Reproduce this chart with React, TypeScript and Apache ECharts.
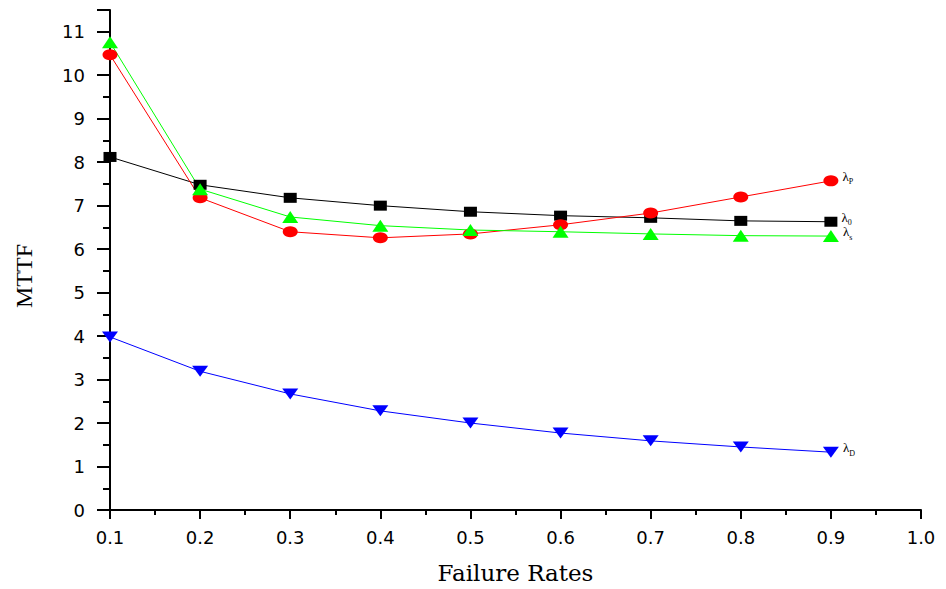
import React, { useEffect, useRef } from "react";
import * as echarts from "echarts";

const failureRates = [0.1, 0.2, 0.3, 0.4, 0.5, 0.6, 0.7, 0.8, 0.9];
const lambda0 = [8.12, 7.48, 7.18, 7.0, 6.86, 6.77, 6.72, 6.65, 6.63];
const lambdaP = [10.47, 7.18, 6.4, 6.26, 6.35, 6.56, 6.83, 7.2, 7.57];
const lambdaS = [10.76, 7.38, 6.74, 6.54, 6.44, 6.4, 6.35, 6.31, 6.3];
const lambdaD = [3.98, 3.19, 2.67, 2.28, 2.0, 1.77, 1.59, 1.45, 1.33];
const seriesNames = ["λ0", "λP", "λs", "λD"];
const subscripts = ["0", "P", "s", "D"];

export default function App() {
  const ref = useRef<HTMLDivElement>(null);
  useEffect(() => {
    document.body.style.margin = "0";
    const chart = echarts.init(ref.current!, null, { renderer: "svg" });
    const mk = (
      name: string,
      sub: string,
      vals: number[],
      color: string,
      symbol: string,
      size: number[],
      rotate = 0
    ) => ({
      name,
      type: "line",
      data: vals.map((v, i) => {
        const d: any = { value: [failureRates[i], v] };
        if (i === vals.length - 1) {
          d.label = {
            show: true,
            position: "right",
            distance: 4,
            offset: [0, -3],
            formatter: "{a|λ}{b|" + sub + "}",
            rich: {
              a: { fontFamily: "Liberation Serif", fontSize: 13, color: "#000", lineHeight: 16, verticalAlign: "top" },
              b: { fontFamily: "Liberation Serif", fontSize: 8, color: "#000", lineHeight: 16, verticalAlign: "bottom" },
            },
          };
        }
        return d;
      }),
      symbol,
      symbolSize: size,
      symbolRotate: rotate,
      showAllSymbol: true,
      itemStyle: { color },
      lineStyle: { color, width: 1 },
      z: 2,
    });
    chart.setOption({
      animation: false,
      backgroundColor: "#fff",
      grid: { left: 110, right: 25, top: 10, bottom: 78, containLabel: false },
      xAxis: {
        type: "value",
        min: 0.1,
        max: 1.0,
        interval: 0.1,
        name: "Failure Rates",
        nameLocation: "middle",
        nameGap: 51,
        nameTextStyle: { fontFamily: "DejaVu Serif", fontSize: 23, color: "#000" },
        axisLine: { show: true, lineStyle: { color: "#000", width: 2 } },
        axisTick: { show: true, length: 9, lineStyle: { color: "#000", width: 2 } },
        minorTick: { show: true, splitNumber: 2, length: 5, lineStyle: { color: "#000", width: 2 } },
        splitLine: { show: false },
        axisLabel: {
          margin: 18,
          fontFamily: "DejaVu Sans",
          fontSize: 18,
          color: "#000",
          formatter: (v: number) => v.toFixed(1),
        },
      },
      yAxis: {
        type: "value",
        min: 0,
        max: 11.5,
        interval: 1,
        name: "MTTF",
        nameLocation: "middle",
        nameGap: 74,
        nameTextStyle: { fontFamily: "Liberation Serif", fontSize: 24, color: "#000", padding: [0, 32, 0, 0] },
        axisLine: { show: true, lineStyle: { color: "#000", width: 2 } },
        axisTick: { show: true, length: 13, lineStyle: { color: "#000", width: 2 } },
        minorTick: { show: true, splitNumber: 2, length: 7, lineStyle: { color: "#000", width: 2 } },
        splitLine: { show: false },
        axisLabel: {
          margin: 25,
          fontFamily: "DejaVu Sans",
          fontSize: 18,
          color: "#000",
          showMaxLabel: false,
          formatter: (v: number) => (Number.isInteger(v) ? String(v) : ""),
        },
      },
      series: [
        mk(seriesNames[0], subscripts[0], lambda0, "#000000", "rect", [13, 10]),
        mk(seriesNames[1], subscripts[1], lambdaP, "#ff0000", "circle", [15, 11]),
        mk(seriesNames[2], subscripts[2], lambdaS, "#00ff00", "triangle", [16, 12]),
        mk(seriesNames[3], subscripts[3], lambdaD, "#0000ff", "triangle", [16, 11], 180),
      ],
    });
    return () => chart.dispose();
  }, []);
  return <div ref={ref} style={{ width: 946, height: 589 }} />;
}
